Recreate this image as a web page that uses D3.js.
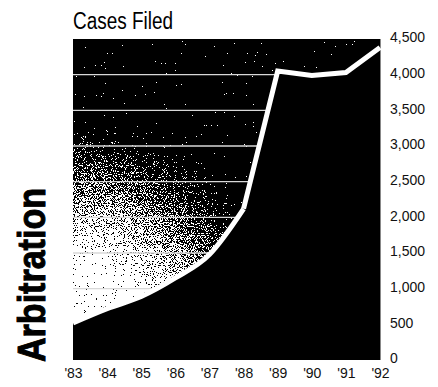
<!DOCTYPE html>
<html>
<head>
<meta charset="utf-8">
<script src="https://cdn.jsdelivr.net/npm/d3@7/dist/d3.min.js"></script>
<style>
  html, body { margin: 0; padding: 0; background: #fff; }
  svg { display: block; }
  .tick text { fill: #111; }
</style>
</head>
<body>
<svg id="chart" width="438" height="387"></svg>
<script>
// Arbitration cases filed per year
const years = ["'83", "'84", "'85", "'86", "'87", "'88", "'89", "'90", "'91", "'92"];
const casesFiled = [520, 720, 890, 1150, 1480, 2120, 4050, 3990, 4030, 4380];
const yTicks = [0, 500, 1000, 1500, 2000, 2500, 3000, 3500, 4000, 4500];
const title = "Cases Filed";
const sideLabel = "Arbitration";

const plot = { left: 73, right: 380, top: 39, bottom: 360 };

const svg = d3.select("#chart");
const defs = svg.append("defs");

const x = d3.scalePoint().domain(years).range([plot.left, plot.right]);
const y = d3.scaleLinear().domain([0, 4500]).range([plot.bottom, plot.top]);

const pts = years.map((yr, i) => ({ yr, v: casesFiled[i] }));
// early years follow a smooth rise, later years are joined with straight segments
const early = pts.slice(0, 6);
const late = pts.slice(5);

const lineSmooth = d3.line().x(d => x(d.yr)).y(d => y(d.v)).curve(d3.curveMonotoneX);
const lineStraight = d3.line().x(d => x(d.yr)).y(d => y(d.v));

const areaBelowSmooth = d3.area().x(d => x(d.yr)).y0(y(0)).y1(d => y(d.v)).curve(d3.curveMonotoneX);
const areaBelowStraight = d3.area().x(d => x(d.yr)).y0(y(0)).y1(d => y(d.v));
const areaAboveSmooth = d3.area().x(d => x(d.yr)).y0(y(4500)).y1(d => y(d.v)).curve(d3.curveMonotoneX);
const areaAboveStraight = d3.area().x(d => x(d.yr)).y0(y(4500)).y1(d => y(d.v));

// region above the line, used to hold the halftone glow and the grid
const clip = defs.append("clipPath").attr("id", "above");
clip.append("path").attr("d", areaAboveSmooth(early));
clip.append("path").attr("d", areaAboveStraight(late));

// radial glow rising from the lower-left corner
const grad = defs.append("radialGradient")
  .attr("id", "glow").attr("gradientUnits", "userSpaceOnUse")
  .attr("cx", plot.left + 2).attr("cy", 330).attr("r", 220);
[[0, 1], [0.3, 1], [0.48, 0.74], [0.64, 0.52], [0.79, 0.3], [0.92, 0.1], [1, 0]].forEach(([o, g]) => {
  const c = Math.round(g * 255);
  grad.append("stop").attr("offset", o).attr("stop-color", `rgb(${c},${c},${c})`);
});

// halftone dither: add noise to the gradient and threshold to black/white
const f = defs.append("filter").attr("id", "dither")
  .attr("filterUnits", "userSpaceOnUse")
  .attr("x", plot.left).attr("y", plot.top)
  .attr("width", plot.right - plot.left).attr("height", plot.bottom - plot.top)
  .attr("color-interpolation-filters", "sRGB");
f.append("feTurbulence").attr("type", "fractalNoise").attr("baseFrequency", 0.9)
  .attr("numOctaves", 2).attr("seed", 7).attr("result", "noise");
f.append("feColorMatrix").attr("in", "noise").attr("type", "matrix")
  .attr("values", "1 0 0 0 0  1 0 0 0 0  1 0 0 0 0  0 0 0 0 1").attr("result", "n");
f.append("feComposite").attr("in", "SourceGraphic").attr("in2", "n")
  .attr("operator", "arithmetic").attr("k1", 0).attr("k2", 1.2).attr("k3", 2.3).attr("k4", -1.3)
  .attr("result", "sum");
const ct = f.append("feComponentTransfer").attr("in", "sum");
["feFuncR", "feFuncG", "feFuncB"].forEach(fn => ct.append(fn).attr("type", "discrete").attr("tableValues", "0 1"));
ct.append("feFuncA").attr("type", "discrete").attr("tableValues", "1 1");

// black panel
svg.append("rect")
  .attr("x", plot.left).attr("y", plot.top)
  .attr("width", plot.right - plot.left).attr("height", plot.bottom - plot.top)
  .attr("fill", "#000");

const above = svg.append("g").attr("clip-path", "url(#above)");
above.append("rect")
  .attr("x", plot.left).attr("y", plot.top)
  .attr("width", plot.right - plot.left).attr("height", plot.bottom - plot.top)
  .attr("fill", "url(#glow)")
  .attr("filter", "url(#dither)");

// grid lines
above.selectAll("line.grid")
  .data(yTicks.filter(t => t > 0 && t < 4500))
  .join("line")
  .attr("class", "grid")
  .attr("x1", plot.left).attr("x2", plot.right)
  .attr("y1", d => y(d)).attr("y2", d => y(d))
  .attr("stroke", "#d8d8d8").attr("stroke-width", 1.3);

// filled area under the line
svg.append("path").attr("d", areaBelowSmooth(early)).attr("fill", "#000");
svg.append("path").attr("d", areaBelowStraight(late)).attr("fill", "#000");

// panel edge on the axis side
svg.append("line")
  .attr("x1", plot.right + 0.5).attr("x2", plot.right + 0.5)
  .attr("y1", plot.top).attr("y2", plot.bottom)
  .attr("stroke", "#888").attr("stroke-width", 1);

// the trend line
svg.append("path").attr("d", lineSmooth(early))
  .attr("fill", "none").attr("stroke", "#fff").attr("stroke-width", 5);
svg.append("path").attr("d", lineStraight(late))
  .attr("fill", "none").attr("stroke", "#fff").attr("stroke-width", 5)
  .attr("stroke-linejoin", "miter");

const fontFamily = "'Liberation Sans Narrow', 'Liberation Sans', Arial, sans-serif";

// right-hand value axis
const yAxis = svg.append("g")
  .attr("transform", `translate(${plot.right},0)`)
  .call(d3.axisRight(y).tickValues(yTicks).tickSize(0).tickPadding(10).tickFormat(d3.format(",")));
yAxis.select(".domain").remove();
yAxis.selectAll("text")
  .attr("font-family", "'Liberation Sans', Arial, sans-serif")
  .attr("font-size", 14).attr("dy", "0.2em");

// year axis
const xAxis = svg.append("g")
  .attr("transform", `translate(0,${plot.bottom})`)
  .call(d3.axisBottom(x).tickSize(0).tickPadding(8));
xAxis.select(".domain").remove();
xAxis.selectAll("text")
  .attr("font-family", fontFamily)
  .attr("font-size", 14);

// title
svg.append("text")
  .attr("x", plot.left).attr("y", 29)
  .attr("font-family", fontFamily).attr("font-size", 23)
  .attr("textLength", 100).attr("lengthAdjust", "spacingAndGlyphs")
  .attr("fill", "#000")
  .text(title);

// vertical side label
svg.append("text")
  .attr("transform", "translate(45,362) rotate(-90)")
  .attr("font-family", "'Liberation Sans', Arial, sans-serif")
  .attr("font-weight", "bold").attr("font-size", 39)
  .attr("stroke", "#000").attr("stroke-width", 1)
  .attr("textLength", 174).attr("lengthAdjust", "spacingAndGlyphs")
  .attr("fill", "#000")
  .text(sideLabel);
</script>
</body>
</html>
